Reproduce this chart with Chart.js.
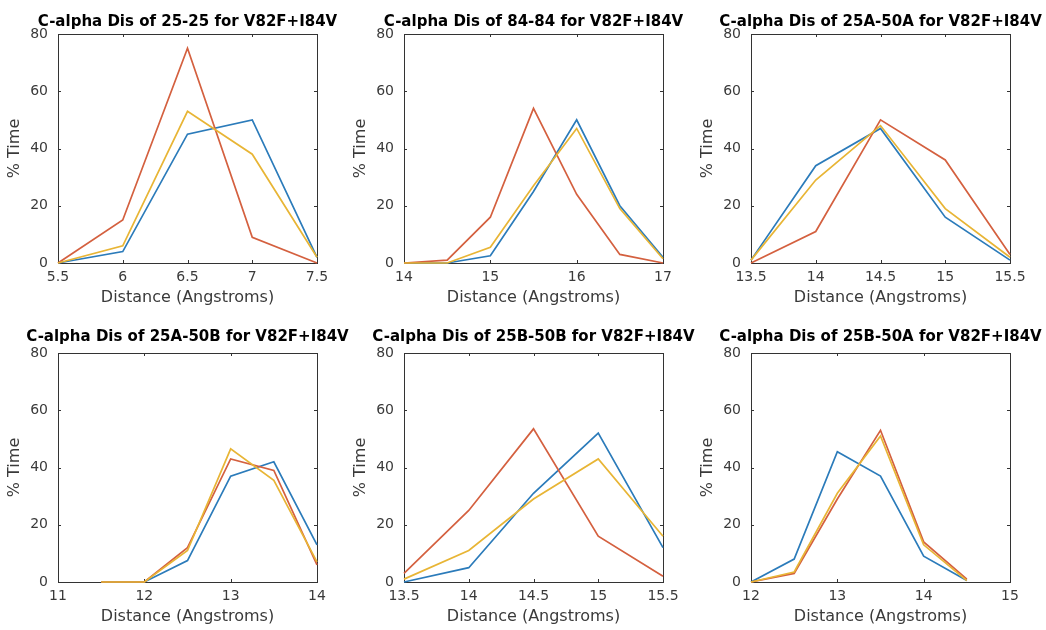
<!DOCTYPE html>
<html>
<head>
<meta charset="utf-8">
<script src="https://cdn.jsdelivr.net/npm/chart.js@4.4.0/dist/chart.umd.min.js"></script>
<style>
  body { margin: 0; background: #fff; width: 1046px; height: 630px; position: relative; overflow: hidden; }
  canvas { position: absolute; }
</style>
</head>
<body>
<script>
// panel titles
var titles = [
    'C-alpha Dis of 25-25 for V82F+I84V',
    'C-alpha Dis of 84-84 for V82F+I84V',
    'C-alpha Dis of 25A-50A for V82F+I84V',
    'C-alpha Dis of 25A-50B for V82F+I84V',
    'C-alpha Dis of 25B-50B for V82F+I84V',
    'C-alpha Dis of 25B-50A for V82F+I84V'
];

// x range of each panel: [min, max, step]
var xRanges = [
    [5.5, 7.5, 0.5],
    [14, 17, 1],
    [13.5, 15.5, 0.5],
    [11, 14, 1],
    [13.5, 15.5, 0.5],
    [12, 15, 1]
];
var yTicks = [0, 20, 40, 60, 80];

// distances (Angstroms)
var dist1 = [5.5, 6, 6.5, 7, 7.5];
var dist2 = [14, 14.5, 15, 15.5, 16, 16.5, 17];
var dist3 = [13.5, 14, 14.5, 15, 15.5];
var dist4 = [11.5, 12, 12.5, 13, 13.5, 14];
var dist5 = [13.5, 14, 14.5, 15, 15.5];
var dist6 = [12, 12.5, 13, 13.5, 14, 14.5];

// % time, three runs per panel (blue, orange, yellow)
var blue1 = [0, 4, 45, 50, 2];
var orange1 = [0, 15, 75, 9, 0];
var yellow1 = [0, 6, 53, 38, 2];

var blue2 = [0, 0, 2.5, 25, 50, 20, 2];
var orange2 = [0, 1, 16, 54, 24, 3, 0];
var yellow2 = [0, 0, 5.5, 27, 47, 19, 1.5];

var blue3 = [1, 34, 47, 16, 1];
var orange3 = [0, 11, 50, 36, 3];
var yellow3 = [1, 29, 48, 19, 2];

var blue4 = [0, 0, 7.5, 37, 42, 13];
var orange4 = [0, 0, 12, 43, 39, 6];
var yellow4 = [0, 0, 11, 46.5, 35.5, 7];

var blue5 = [0, 5, 31, 52, 12];
var orange5 = [3, 25, 53.5, 16, 2];
var yellow5 = [1, 11, 29, 43, 16];

var blue6 = [0, 8, 45.5, 37, 9, 0.5];
var orange6 = [0, 3, 29, 53, 14, 1];
var yellow6 = [0, 3.5, 31, 51, 13, 0.5];

var dists = [dist1, dist2, dist3, dist4, dist5, dist6];
var blues = [blue1, blue2, blue3, blue4, blue5, blue6];
var oranges = [orange1, orange2, orange3, orange4, orange5, orange6];
var yellows = [yellow1, yellow2, yellow3, yellow4, yellow5, yellow6];

var colBlue = '#2b7bba', colOrange = '#d4603f', colYellow = '#e8b535';
var fontFam = '"DejaVu Sans", "Liberation Sans", Arial, sans-serif';

// layout of the plot boxes
var plotLeft = [58, 404, 751];
var plotTop = [34, 353];
var plotW = 259, plotH = 229;
var W = 56, T = 30, H = 50;
var titlePad = [{top: 9, bottom: 3}, {top: 5, bottom: 7}];

// box with inward ticks on all four sides, like matlab
var boxPlugin = {
    id: 'box',
    beforeDatasetsDraw: function (chart) {
        var a = chart.chartArea, ctx = chart.ctx;
        var xs = chart.scales.x, ys = chart.scales.y;
        ctx.save();
        ctx.strokeStyle = '#333';
        ctx.lineWidth = 1;
        ctx.beginPath();
        xs.ticks.forEach(function (t) {
            var px = Math.round(xs.getPixelForValue(t.value)) + 0.5;
            ctx.moveTo(px, a.bottom); ctx.lineTo(px, a.bottom - 3);
            ctx.moveTo(px, a.top); ctx.lineTo(px, a.top + 3);
        });
        ys.ticks.forEach(function (t) {
            var py = Math.round(ys.getPixelForValue(t.value)) + 0.5;
            ctx.moveTo(a.left, py); ctx.lineTo(a.left + 3, py);
            ctx.moveTo(a.right, py); ctx.lineTo(a.right - 3, py);
        });
        ctx.stroke();
        ctx.strokeRect(Math.round(a.left) + 0.5, Math.round(a.top) + 0.5,
            Math.round(a.right - a.left), Math.round(a.bottom - a.top));
        ctx.restore();
    }
};

function series(xv, yv) {
    return xv.map(function (x, i) { return {x: x, y: yv[i]}; });
}

function line(data, color, order) {
    return {
        data: data,
        borderColor: color,
        borderWidth: 1.7,
        pointRadius: 0,
        tension: 0,
        fill: false,
        clip: false,
        order: order
    };
}

for (var i = 0; i < 6; i++) {
    var r = Math.floor(i / 3), c = i % 3;
    var canvas = document.createElement('canvas');
    canvas.width = plotW + 2 * W;
    canvas.height = T + plotH + H;
    canvas.style.left = (plotLeft[c] - W) + 'px';
    canvas.style.top = (plotTop[r] - T) + 'px';
    canvas.style.width = canvas.width + 'px';
    canvas.style.height = canvas.height + 'px';
    document.body.appendChild(canvas);

    var xr = xRanges[i];
    new Chart(canvas.getContext('2d'), {
        type: 'line',
        data: {
            datasets: [
                line(series(dists[i], blues[i]), colBlue, 3),
                line(series(dists[i], oranges[i]), colOrange, 2),
                line(series(dists[i], yellows[i]), colYellow, 1)
            ]
        },
        options: {
            responsive: false,
            animation: false,
            devicePixelRatio: 1,
            layout: { padding: 0 },
            plugins: {
                legend: { display: false },
                tooltip: { enabled: false },
                title: {
                    display: true,
                    text: titles[i],
                    color: '#000',
                    font: { family: fontFam, size: 15, weight: 'bold' },
                    padding: titlePad[r]
                }
            },
            scales: {
                x: {
                    type: 'linear',
                    min: xr[0],
                    max: xr[1],
                    grid: { display: false, drawTicks: false },
                    border: { display: false },
                    afterFit: function (s) { s.height = H; },
                    ticks: {
                        stepSize: xr[2],
                        autoSkip: false,
                        maxRotation: 0,
                        padding: 6,
                        color: '#3a3a3a',
                        font: { family: fontFam, size: 14 },
                        callback: function (v) { return String(v); }
                    },
                    title: {
                        display: true,
                        text: 'Distance (Angstroms)',
                        color: '#3a3a3a',
                        font: { family: fontFam, size: 16 },
                        padding: { top: 0, bottom: 6 }
                    }
                },
                y: {
                    min: yTicks[0],
                    max: yTicks[yTicks.length - 1],
                    grid: { display: false, drawTicks: false },
                    border: { display: false },
                    afterFit: function (s) { s.width = W; },
                    ticks: {
                        stepSize: yTicks[1] - yTicks[0],
                        padding: 10,
                        color: '#3a3a3a',
                        font: { family: fontFam, size: 14 }
                    },
                    title: {
                        display: true,
                        text: '% Time',
                        color: '#3a3a3a',
                        font: { family: fontFam, size: 16 },
                        padding: { top: 3.5, bottom: 0 }
                    }
                },
                // empty right axis, keeps the plot centred under the title
                yRight: {
                    position: 'right',
                    min: yTicks[0],
                    max: yTicks[yTicks.length - 1],
                    grid: { display: false, drawTicks: false },
                    border: { display: false },
                    ticks: { display: false },
                    afterFit: function (s) { s.width = W; }
                }
            }
        },
        plugins: [boxPlugin]
    });
}
</script>
</body>
</html>
